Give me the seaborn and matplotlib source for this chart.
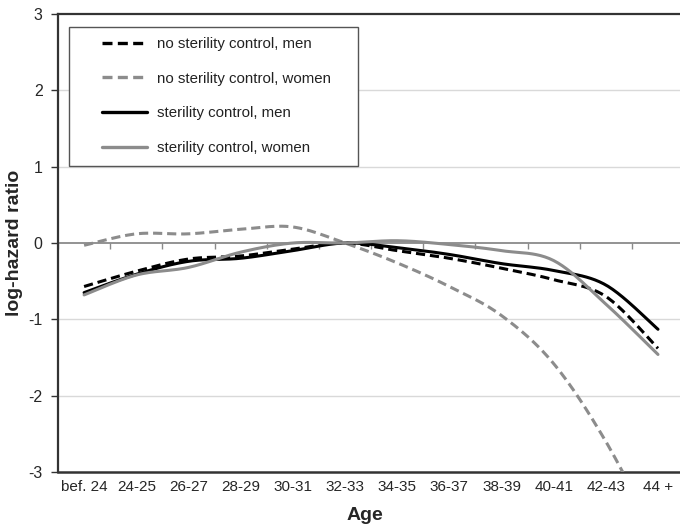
import numpy as np
import pandas as pd
import matplotlib
matplotlib.use("Agg")
import matplotlib.pyplot as plt
from matplotlib.patches import Rectangle
import seaborn as sns

# Age groups and log-hazard ratios (reference group 32-33)
age_groups = ["bef. 24", "24-25", "26-27", "28-29", "30-31", "32-33",
              "34-35", "36-37", "38-39", "40-41", "42-43", "44 +"]
no_ctrl_men = [-0.57, -0.37, -0.21, -0.17, -0.08, 0.0, -0.10, -0.20, -0.33, -0.48, -0.70, -1.38]
no_ctrl_women = [-0.03, 0.12, 0.12, 0.18, 0.21, 0.0, -0.26, -0.57, -0.95, -1.58, -2.60, -3.90]
ctrl_men = [-0.65, -0.41, -0.24, -0.20, -0.10, 0.0, -0.06, -0.15, -0.27, -0.36, -0.55, -1.13]
ctrl_women = [-0.68, -0.42, -0.32, -0.12, 0.0, 0.0, 0.03, -0.02, -0.10, -0.23, -0.80, -1.46]

series_names = ["no sterility control, men", "no sterility control, women",
                "sterility control, men", "sterility control, women"]
series_values = [no_ctrl_men, no_ctrl_women, ctrl_men, ctrl_women]


def smooth(xs, ys, n=24):
    """Smoothed line through the points (cubic Bezier, Catmull-Rom tangents)."""
    xs = np.asarray(xs, float)
    ys = np.asarray(ys, float)
    px = np.concatenate([[xs[0]], xs, [xs[-1]]])
    py = np.concatenate([[ys[0]], ys, [ys[-1]]])
    out_x, out_y = [], []
    t = np.linspace(0, 1, n, endpoint=False)
    for i in range(1, len(px) - 2):
        x0, x1, x2, x3 = px[i - 1], px[i], px[i + 1], px[i + 2]
        y0, y1, y2, y3 = py[i - 1], py[i], py[i + 1], py[i + 2]
        c1x, c1y = x1 + (x2 - x0) / 6, y1 + (y2 - y0) / 6
        c2x, c2y = x2 - (x3 - x1) / 6, y2 - (y3 - y1) / 6
        b0, b1, b2, b3 = (1 - t) ** 3, 3 * (1 - t) ** 2 * t, 3 * (1 - t) * t ** 2, t ** 3
        out_x.extend(b0 * x1 + b1 * c1x + b2 * c2x + b3 * x2)
        out_y.extend(b0 * y1 + b1 * c1y + b2 * c2y + b3 * y2)
    out_x.append(xs[-1])
    out_y.append(ys[-1])
    return np.array(out_x), np.array(out_y)


frames = []
positions = np.arange(len(age_groups))
for name, vals in zip(series_names, series_values):
    sx, sy = smooth(positions, vals)
    frames.append(pd.DataFrame({"pos": sx, "value": sy, "series": name}))
df = pd.concat(frames, ignore_index=True)

sns.set_theme(style="white")
plt.rcParams["font.family"] = ["Liberation Sans", "DejaVu Sans"]

fig = plt.figure(figsize=(6.8, 5.3), dpi=100)
ax = fig.add_axes([0.0853, 0.1094, 0.9207, 0.8642])

palette = {series_names[0]: "#000000", series_names[1]: "#8c8c8c",
           series_names[2]: "#000000", series_names[3]: "#8c8c8c"}
dashes = {series_names[0]: (3.0, 1.6), series_names[1]: (3.0, 1.6),
          series_names[2]: "", series_names[3]: ""}

sns.lineplot(data=df, x="pos", y="value", hue="series", style="series",
             hue_order=series_names, style_order=series_names,
             palette=palette, dashes=dashes, sort=False, estimator=None,
             units="series", linewidth=2.2, ax=ax, legend=True, zorder=3)

ax.set_xlim(-0.5, len(age_groups) - 0.5)
ax.set_ylim(-3, 3)
ax.set_yticks(range(-3, 4))
ax.set_yticklabels([str(v) for v in range(-3, 4)], fontsize=11.5)
for g in (-2, -1, 1, 2):
    ax.axhline(g, color="#d9d9d9", linewidth=1.0, zorder=1)

# Category axis crosses at zero, tick marks between categories
ax.spines["bottom"].set_position(("data", 0))
ax.spines["bottom"].set_color("#8a8a8a")
ax.spines["bottom"].set_linewidth(1.3)
ax.spines["bottom"].set_zorder(2)
ax.set_xticks(np.arange(len(age_groups) + 1) - 0.5)
ax.set_xticklabels([])
ax.tick_params(axis="x", direction="out", length=4, width=1, color="#8a8a8a", bottom=True)

# Outer frame and category labels along the bottom
for side in ("left", "top"):
    ax.spines[side].set_color("#333333")
    ax.spines[side].set_linewidth(1.6)
ax.spines["right"].set_visible(False)
ax.tick_params(axis="y", direction="out", length=5, width=1, color="#333333", left=True, pad=6)

sec = ax.secondary_xaxis(0.0)
sec.set_xticks(positions)
sec.set_xticklabels(age_groups, fontsize=11)
sec.tick_params(axis="x", length=0, pad=6)
sec.spines["bottom"].set_color("#333333")
sec.spines["bottom"].set_linewidth(1.8)

ax.set_xlabel("")
ax.set_ylabel("log-hazard ratio", fontsize=14, fontweight="bold", labelpad=4)
fig.text(0.537, 0.028, "Age", fontsize=14, fontweight="bold", ha="center", va="center")

# Legend entries, with a plain box drawn around them
leg = ax.legend(loc="upper left", bbox_to_anchor=(0.150, 1.0 - 37 / 530), bbox_transform=fig.transFigure,
                frameon=False, fontsize=10.8, handlelength=3.0, handletextpad=0.65,
                labelspacing=1.38, borderpad=0.0, borderaxespad=0.0)
for h in leg.get_lines():
    h.set_linewidth(2.4)
for txt in leg.get_texts():
    txt.set_color("#222222")
ax.add_patch(Rectangle((69 / 680, 1 - 166 / 530), 289 / 680, 139 / 530,
                       transform=fig.transFigure, fill=True, facecolor="white",
                       edgecolor="#555555", linewidth=1.0, zorder=4, clip_on=False))
leg.set_zorder(5)

fig.savefig("out.png", dpi=100)
